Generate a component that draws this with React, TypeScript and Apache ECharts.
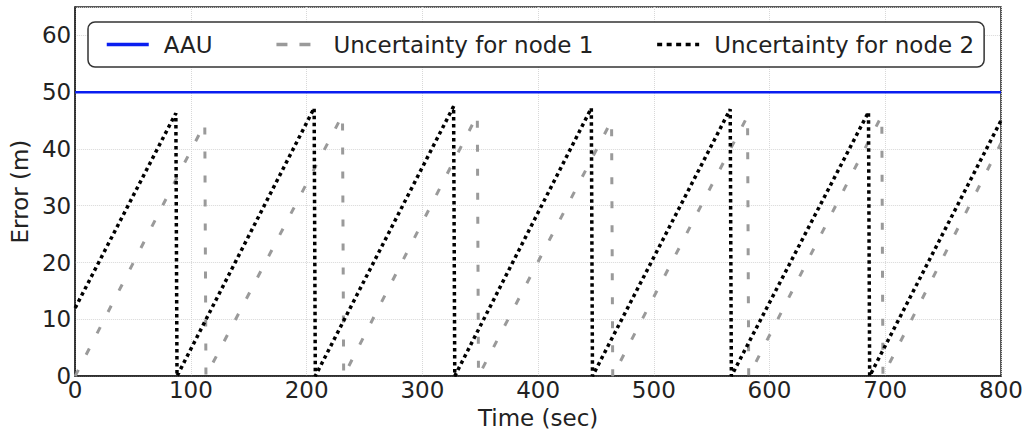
import React, { useEffect, useRef } from 'react';
import * as echarts from 'echarts';

const legendNames = ['AAU', 'Uncertainty for node 1', 'Uncertainty for node 2'];
const xTicks = [0, 100, 200, 300, 400, 500, 600, 700, 800];
const yTicks = [0, 10, 20, 30, 40, 50, 60];
const xMax = 800;
const yMax = 65;

const aauTime = [0, 800];
const aauError = [50, 50];

const node1Time = [0, 112, 113, 231, 232, 347.5, 348.5, 463.5, 464.5, 581, 582, 697, 698, 800];
const node1Error = [0, 44.5, 0, 46, 0, 46, 0, 45, 0, 45.8, 0, 45.9, 0, 41];

const node2Time = [0, 87, 88, 206.5, 207.5, 327, 328, 446, 447, 566, 567, 685.5, 686.5, 800];
const node2Error = [12, 46.3, 0, 47.2, 0, 47.5, 0, 47.2, 0, 47, 0, 46.5, 0, 45];

const FONT = 'DejaVu Sans';

const zip = (xs: number[], ys: number[]) => xs.map((x, i) => [x, ys[i]]);

export default function App() {
  const ref = useRef<HTMLDivElement>(null);
  useEffect(() => {
    if (!ref.current) return;
    const chart = echarts.init(ref.current, undefined, { renderer: 'svg' });
    const yTickSet = new Set(yTicks);
    const xTickSet = new Set(xTicks);
    chart.setOption({
      animation: false,
      backgroundColor: '#ffffff',
      textStyle: { fontFamily: FONT },
      grid: {
        left: 74,
        right: 30,
        top: 7,
        bottom: 49,
        show: true,
        borderColor: '#222',
        borderWidth: 1.5,
        backgroundColor: 'transparent',
      },
      legend: {
        data: [
          { name: legendNames[0], itemStyle: { opacity: 0 }, lineStyle: { width: 3.5, type: 'solid' } },
          { name: legendNames[1], itemStyle: { opacity: 0 }, lineStyle: { width: 3.5, type: [11, 12] } },
          { name: legendNames[2], itemStyle: { opacity: 0 }, lineStyle: { width: 3.5, type: [5, 4.5] } },
        ],
        left: 88,
        top: 22,
        orient: 'horizontal',
        itemWidth: 42,
        itemHeight: 14,
        itemGap: 62,
        padding: [11, 10, 11, 17],
        borderColor: '#333',
        borderWidth: 1.5,
        borderRadius: 7,
        backgroundColor: '#fff',
        textStyle: {
          fontFamily: FONT,
          fontSize: 23,
          color: '#222',
          padding: [0, 0, 0, 10],
        },
      },
      xAxis: {
        type: 'value',
        min: 0,
        max: xMax,
        interval: 100,
        name: 'Time (sec)',
        nameLocation: 'middle',
        nameGap: 22,
        nameTextStyle: { fontFamily: FONT, fontSize: 23, color: '#222' },
        axisLine: { show: true, onZero: false, lineStyle: { color: '#222', width: 1.5 } },
        axisTick: { show: false },
        axisLabel: {
          fontFamily: FONT,
          fontSize: 23,
          color: '#222',
          margin: 2,
          formatter: (v: number) => (xTickSet.has(v) ? String(v) : ''),
        },
        splitLine: { show: true, lineStyle: { color: '#d8d8d8', type: 'dotted', width: 1 } },
      },
      yAxis: {
        type: 'value',
        min: 0,
        max: yMax,
        interval: 10,
        name: 'Error (m)',
        nameLocation: 'middle',
        nameGap: 34,
        nameTextStyle: { fontFamily: FONT, fontSize: 23, color: '#222' },
        axisLine: { show: true, onZero: false, lineStyle: { color: '#222', width: 1.5 } },
        axisTick: { show: false },
        axisLabel: {
          fontFamily: FONT,
          fontSize: 23,
          color: '#222',
          margin: 4,
          showMaxLabel: false,
          formatter: (v: number) => (yTickSet.has(v) ? String(v) : ''),
        },
        splitLine: { show: true, lineStyle: { color: '#d8d8d8', type: 'dotted', width: 1 } },
      },
      series: [
        {
          name: legendNames[0],
          type: 'line',
          data: zip(aauTime, aauError),
          symbol: 'none',
          showSymbol: false,
          color: '#0a1ef0',
          lineStyle: { color: '#0a1ef0', width: 2.5, type: 'solid' },
          z: 3,
        },
        {
          name: legendNames[1],
          type: 'line',
          data: zip(node1Time, node1Error),
          symbol: 'none',
          showSymbol: false,
          color: '#9a9a9a',
          lineStyle: { color: '#9a9a9a', width: 3, type: [7, 17], cap: 'butt' },
          z: 2,
        },
        {
          name: legendNames[2],
          type: 'line',
          data: zip(node2Time, node2Error),
          symbol: 'none',
          showSymbol: false,
          color: '#000000',
          lineStyle: { color: '#000000', width: 3.5, type: [3.5, 3.5], cap: 'butt' },
          z: 4,
        },
      ],
    });
    return () => chart.dispose();
  }, []);
  return (
    <div
      ref={ref}
      style={{ position: 'fixed', left: 0, top: 0, width: 1031, height: 434, background: '#fff' }}
    />
  );
}
